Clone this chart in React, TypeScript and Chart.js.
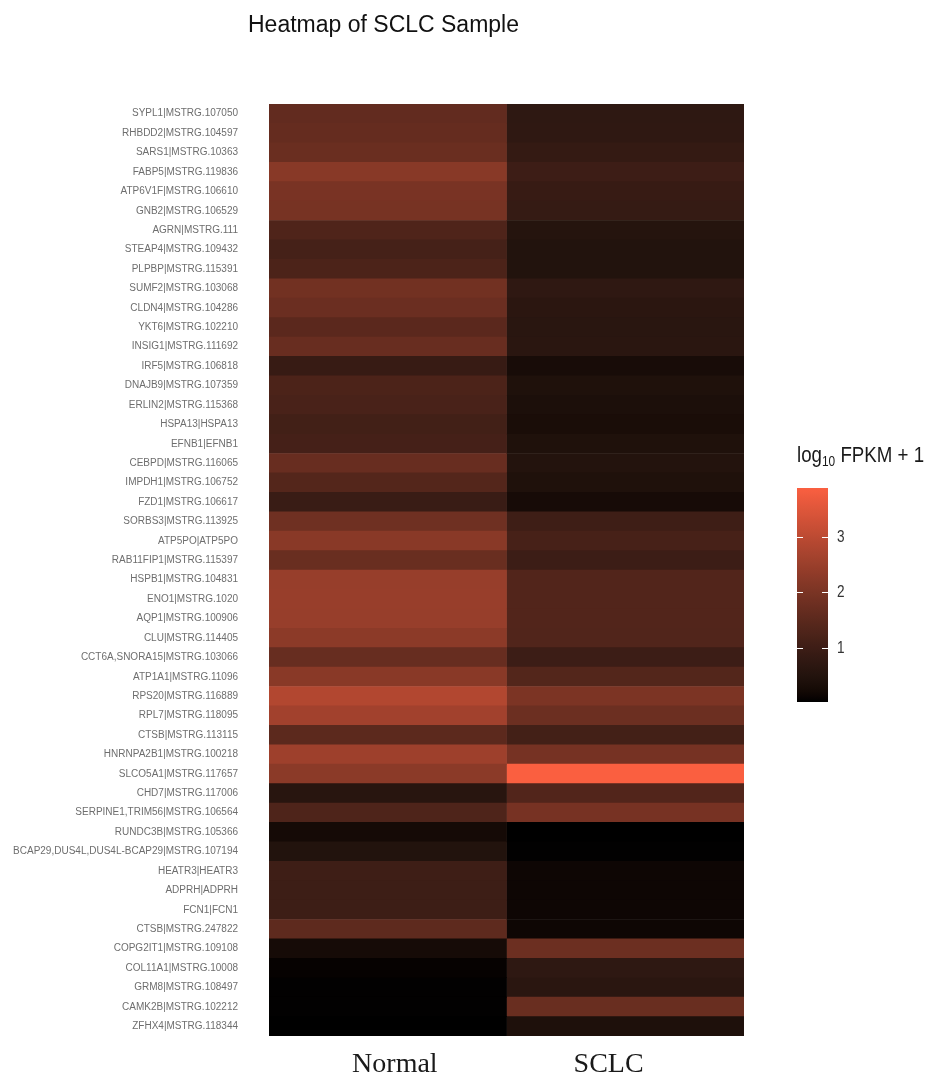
import React, { useEffect, useRef } from 'react';
import { Chart, registerables } from 'chart.js';

Chart.register(...registerables);

const genes = [
  'SYPL1|MSTRG.107050',
  'RHBDD2|MSTRG.104597',
  'SARS1|MSTRG.10363',
  'FABP5|MSTRG.119836',
  'ATP6V1F|MSTRG.106610',
  'GNB2|MSTRG.106529',
  'AGRN|MSTRG.111',
  'STEAP4|MSTRG.109432',
  'PLPBP|MSTRG.115391',
  'SUMF2|MSTRG.103068',
  'CLDN4|MSTRG.104286',
  'YKT6|MSTRG.102210',
  'INSIG1|MSTRG.111692',
  'IRF5|MSTRG.106818',
  'DNAJB9|MSTRG.107359',
  'ERLIN2|MSTRG.115368',
  'HSPA13|HSPA13',
  'EFNB1|EFNB1',
  'CEBPD|MSTRG.116065',
  'IMPDH1|MSTRG.106752',
  'FZD1|MSTRG.106617',
  'SORBS3|MSTRG.113925',
  'ATP5PO|ATP5PO',
  'RAB11FIP1|MSTRG.115397',
  'HSPB1|MSTRG.104831',
  'ENO1|MSTRG.1020',
  'AQP1|MSTRG.100906',
  'CLU|MSTRG.114405',
  'CCT6A,SNORA15|MSTRG.103066',
  'ATP1A1|MSTRG.11096',
  'RPS20|MSTRG.116889',
  'RPL7|MSTRG.118095',
  'CTSB|MSTRG.113115',
  'HNRNPA2B1|MSTRG.100218',
  'SLCO5A1|MSTRG.117657',
  'CHD7|MSTRG.117006',
  'SERPINE1,TRIM56|MSTRG.106564',
  'RUNDC3B|MSTRG.105366',
  'BCAP29,DUS4L,DUS4L-BCAP29|MSTRG.107194',
  'HEATR3|HEATR3',
  'ADPRH|ADPRH',
  'FCN1|FCN1',
  'CTSB|MSTRG.247822',
  'COPG2IT1|MSTRG.109108',
  'COL11A1|MSTRG.10008',
  'GRM8|MSTRG.108497',
  'CAMK2B|MSTRG.102212',
  'ZFHX4|MSTRG.118344',
];

const normalValues = [
  1.62, 1.66, 1.75, 2.22, 1.99, 1.96, 1.31, 1.14, 1.25, 1.88,
  1.76, 1.50, 1.71, 0.89, 1.25, 1.20, 1.09, 1.13, 1.71, 1.39,
  0.92, 1.83, 2.24, 1.73, 2.45, 2.47, 2.45, 2.28, 1.70, 2.24,
  2.85, 2.61, 1.52, 2.56, 2.27, 0.61, 1.28, 0.25, 0.50, 1.01,
  1.00, 1.00, 1.55, 0.27, 0.08, 0.05, 0.05, 0.03,
];

const sclcValues = [
  0.73, 0.74, 0.83, 0.99, 0.89, 0.86, 0.55, 0.51, 0.51, 0.75,
  0.67, 0.64, 0.65, 0.31, 0.43, 0.38, 0.33, 0.43, 0.52, 0.43,
  0.28, 1.01, 1.17, 0.98, 1.36, 1.36, 1.36, 1.34, 0.98, 1.37,
  2.03, 1.78, 1.10, 1.94, 3.88, 1.36, 1.95, 0.03, 0.05, 0.16,
  0.16, 0.16, 0.16, 1.78, 0.73, 0.66, 1.74, 0.42,
];

const columns = ['Normal', 'SCLC'];
const legendTicks = [1, 2, 3];
const chartTitle = 'Heatmap of SCLC Sample';
const legendTitleMain = 'log';
const legendTitleSub = '10';
const legendTitleRest = ' FPKM + 1';

const LOW_COLOR = '#000000';
const HIGH_COLOR = '#FA5F40';

// ---- Lab colour interpolation (like ggplot's gradient) ----
function hexToRgb(h: string): number[] {
  const s = h.replace('#', '');
  return [0, 2, 4].map((i) => parseInt(s.slice(i, i + 2), 16));
}
function toLin(c: number) {
  const v = c / 255;
  return v <= 0.04045 ? v / 12.92 : Math.pow((v + 0.055) / 1.055, 2.4);
}
function fromLin(c: number) {
  const v = c <= 0.0031308 ? 12.92 * c : 1.055 * Math.pow(c, 1 / 2.4) - 0.055;
  return Math.round(Math.max(0, Math.min(1, v)) * 255);
}
const XN = 0.95047, YN = 1.0, ZN = 1.08883;
function f(t: number) {
  return t > 0.008856 ? Math.cbrt(t) : 7.787 * t + 16 / 116;
}
function finv(t: number) {
  return t > 0.206893 ? t * t * t : (t - 16 / 116) / 7.787;
}
function rgbToLab(rgb: number[]) {
  const [R, G, B] = rgb.map(toLin);
  const X = (0.4124 * R + 0.3576 * G + 0.1805 * B) / XN;
  const Y = (0.2126 * R + 0.7152 * G + 0.0722 * B) / YN;
  const Z = (0.0193 * R + 0.1192 * G + 0.9505 * B) / ZN;
  const fx = f(X), fy = f(Y), fz = f(Z);
  return [116 * fy - 16, 500 * (fx - fy), 200 * (fy - fz)];
}
function labToRgb(lab: number[]) {
  const [L, a, b] = lab;
  const fy = (L + 16) / 116;
  const fx = fy + a / 500;
  const fz = fy - b / 200;
  const X = finv(fx) * XN, Y = finv(fy) * YN, Z = finv(fz) * ZN;
  const R = 3.2406 * X - 1.5372 * Y - 0.4986 * Z;
  const G = -0.9689 * X + 1.8758 * Y + 0.0415 * Z;
  const B = 0.0557 * X - 0.204 * Y + 1.057 * Z;
  return [fromLin(R), fromLin(G), fromLin(B)];
}
const labLow = rgbToLab(hexToRgb(LOW_COLOR));
const labHigh = rgbToLab(hexToRgb(HIGH_COLOR));
const allValues = [...normalValues, ...sclcValues];
const vMin = Math.min(...allValues);
const vMax = Math.max(...allValues);
function colorAt(v: number) {
  const t = Math.max(0, Math.min(1, (v - vMin) / (vMax - vMin)));
  const lab = labLow.map((l, i) => l + (labHigh[i] - l) * t);
  const [r, g, b] = labToRgb(lab);
  return `rgb(${r},${g},${b})`;
}

const SANS = '"Liberation Sans", Arial, Helvetica, sans-serif';
const SERIF = '"Liberation Serif", "Times New Roman", serif';

const decorPlugin = {
  id: 'decor',
  afterDraw(chart: any) {
    const ctx = chart.ctx as CanvasRenderingContext2D;
    ctx.save();
    // title
    ctx.fillStyle = '#111111';
    ctx.font = `23px ${SANS}`;
    ctx.textAlign = 'left';
    ctx.textBaseline = 'alphabetic';
    ctx.fillText(chartTitle, 248, 32);

    // colour bar
    const x0 = 797, w = 31, yTop = 488, yBot = 702;
    const grad = ctx.createLinearGradient(0, yBot, 0, yTop);
    for (let i = 0; i <= 40; i++) {
      const t = i / 40;
      grad.addColorStop(t, colorAt(vMin + t * (vMax - vMin)));
    }
    ctx.fillStyle = grad;
    ctx.fillRect(x0, yTop, w, yBot - yTop);

    ctx.strokeStyle = '#ffffff';
    ctx.lineWidth = 1;
    ctx.fillStyle = '#333333';
    legendTicks.forEach((v) => {
      const y = Math.round(yBot - ((v - vMin) / (vMax - vMin)) * (yBot - yTop)) + 0.5;
      ctx.beginPath();
      ctx.moveTo(x0, y);
      ctx.lineTo(x0 + 6, y);
      ctx.moveTo(x0 + w - 6, y);
      ctx.lineTo(x0 + w, y);
      ctx.stroke();
      ctx.save();
      ctx.translate(x0 + w + 9, y);
      ctx.scale(0.8, 1);
      ctx.font = `17px ${SANS}`;
      ctx.textBaseline = 'middle';
      ctx.fillText(String(v), 0, 0);
      ctx.restore();
    });

    // legend title
    ctx.save();
    ctx.translate(797, 462);
    ctx.scale(0.85, 1);
    ctx.fillStyle = '#1a1a1a';
    ctx.textBaseline = 'alphabetic';
    ctx.font = `22px ${SANS}`;
    let x = 0;
    ctx.fillText(legendTitleMain, x, 0);
    x += ctx.measureText(legendTitleMain).width;
    ctx.font = `14px ${SANS}`;
    ctx.fillText(legendTitleSub, x, 4);
    x += ctx.measureText(legendTitleSub).width;
    ctx.font = `22px ${SANS}`;
    ctx.fillText(legendTitleRest, x, 0);
    ctx.restore();

    ctx.restore();
  },
};

export default function App() {
  const ref = useRef<HTMLCanvasElement | null>(null);

  useEffect(() => {
    document.body.style.margin = '0';
    document.body.style.overflow = 'hidden';
    const canvas = ref.current;
    if (!canvas) return;
    const chart = new Chart(canvas, {
      type: 'bar',
      data: {
        labels: genes,
        datasets: [normalValues, sclcValues].map((vals, ci) => ({
          label: columns[ci],
          data: genes.map(() => [ci, ci + 1]),
          backgroundColor: vals.map(colorAt),
          borderWidth: 0,
          barPercentage: 1,
          categoryPercentage: 1,
          grouped: false,
        })) as any,
      },
      options: {
        indexAxis: 'y',
        animation: false,
        responsive: false,
        maintainAspectRatio: false,
        events: [],
        layout: { padding: { top: 104, right: 183, bottom: 0, left: 0 } },
        plugins: {
          legend: { display: false },
          title: { display: false },
          tooltip: { enabled: false },
        },
        scales: {
          x: {
            type: 'linear',
            min: 0,
            max: 2,
            grid: { display: false, drawTicks: false },
            border: { display: false },
            afterBuildTicks: (s: any) => {
              s.ticks = [{ value: 0.53 }, { value: 1.43 }];
            },
            afterFit: (s: any) => {
              s.height = 42;
            },
            ticks: {
              padding: 15,
              color: '#1a1a1a',
              font: { family: SERIF, size: 28, lineHeight: 1 },
              callback: (_v: any, i: number) => columns[i],
            },
          },
          y: {
            type: 'category',
            grid: { display: false, drawTicks: false },
            border: { display: false },
            afterFit: (s: any) => {
              s.width = 269;
            },
            ticks: {
              autoSkip: false,
              padding: 31,
              color: '#6e6e6e',
              font: { family: SANS, size: 10 },
            },
          },
        },
      },
      plugins: [decorPlugin],
    });
    return () => chart.destroy();
  }, []);

  return (
    <div style={{ width: 927, height: 1078, background: '#ffffff' }}>
      <canvas ref={ref} width={927} height={1078} style={{ display: 'block', width: 927, height: 1078 }} />
    </div>
  );
}
